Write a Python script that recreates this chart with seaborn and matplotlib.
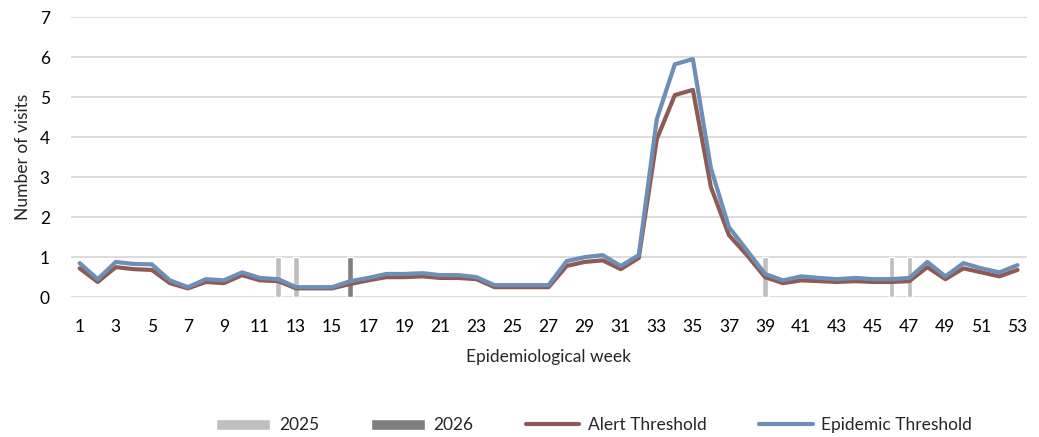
import pandas as pd
import seaborn as sns
import matplotlib.pyplot as plt

weeks = list(range(1, 54))

alert = [0.72, 0.38, 0.75, 0.70, 0.68, 0.35, 0.22, 0.38, 0.35, 0.55,
         0.42, 0.40, 0.22, 0.22, 0.22, 0.33, 0.42, 0.50, 0.50, 0.52,
         0.48, 0.48, 0.45, 0.25, 0.25, 0.25, 0.25, 0.78, 0.88, 0.92,
         0.70, 0.98, 3.95, 5.05, 5.18, 2.75, 1.55, 1.05, 0.50, 0.35,
         0.42, 0.40, 0.38, 0.40, 0.38, 0.38, 0.40, 0.75, 0.45, 0.72,
         0.62, 0.52, 0.68]

epidemic = [0.85, 0.45, 0.88, 0.83, 0.82, 0.42, 0.25, 0.45, 0.42, 0.62,
            0.48, 0.45, 0.25, 0.25, 0.25, 0.40, 0.48, 0.58, 0.58, 0.60,
            0.55, 0.55, 0.50, 0.30, 0.30, 0.30, 0.30, 0.90, 1.00, 1.05,
            0.78, 1.05, 4.45, 5.82, 5.95, 3.22, 1.75, 1.17, 0.58, 0.42,
            0.52, 0.48, 0.45, 0.48, 0.45, 0.45, 0.48, 0.88, 0.52, 0.85,
            0.72, 0.62, 0.80]

# weeks with reported visits
bar_weeks = [12, 13, 16, 39, 46, 47]
bar_years = ['2025', '2025', '2026', '2025', '2025', '2025']
bar_values = [1, 1, 1, 1, 1, 1]

bars = pd.DataFrame({'week': bar_weeks, 'year': bar_years, 'visits': bar_values})

sns.set_style('white')
plt.rcParams['font.family'] = ['Lato', 'DejaVu Sans']

fig, ax = plt.subplots(figsize=(10.39, 4.37), dpi=100)
fig.subplots_adjust(left=0.068, right=0.988, top=0.961, bottom=0.32)

sns.barplot(data=bars, x='week', y='visits', hue='year', native_scale=True,
            dodge=False, width=0.3, palette={'2025': '#BFBFBF', '2026': '#7F7F7F'},
            hue_order=['2025', '2026'], ax=ax, zorder=2)
sns.lineplot(x=weeks, y=alert, color='#8E5A55', lw=3, label='Alert Threshold',
             ax=ax, zorder=3)
sns.lineplot(x=weeks, y=epidemic, color='#6C8EB7', lw=3, label='Epidemic Threshold',
             ax=ax, zorder=4)

ax.set_xlim(0.5, 53.5)
ax.set_ylim(0, 7)
ax.set_yticks(range(0, 8))
ax.set_xticks(weeks[::2])
ax.grid(axis='y', color='#D9D9D9', lw=1.3, zorder=0)
ax.set_axisbelow(True)
for s in ax.spines.values():
    s.set_visible(False)
ax.tick_params(length=0, labelsize=12.5, colors='#000000')
ax.tick_params(axis='x', pad=16)
ax.tick_params(axis='y', pad=15)
ax.set_xlabel('Epidemiological week', fontsize=12.5, labelpad=10)
ax.set_ylabel('Number of visits', fontsize=12.5, labelpad=6)

handles, labels = ax.get_legend_handles_labels()
ax.get_legend().remove()
fig.legend(handles, labels, loc='center', bbox_to_anchor=(0.572, 0.027), ncol=4,
           frameon=False, fontsize=12.5, handlelength=3.1, handleheight=0.6,
           columnspacing=3.0, handletextpad=0.5)

fig.savefig('out.png', dpi=100)
